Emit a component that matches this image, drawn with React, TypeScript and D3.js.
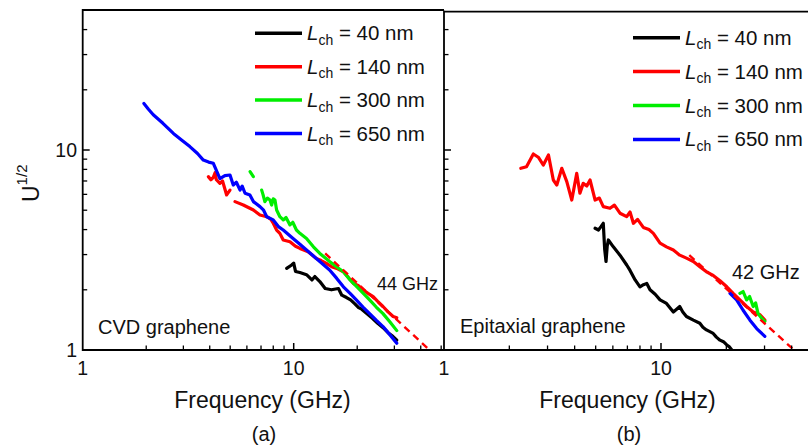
import React from 'react';
import * as d3 from 'd3';

type Pt = [number, number];

// ---------- data (frequency GHz, U^1/2) ----------
const legendLabels = ['40', '140', '300', '650'];
const seriesColors = ['#000000', '#ff0000', '#00ee00', '#0000ff'];
const minorTicks = [2, 3, 4, 5, 6, 7, 8, 9, 20, 30, 40, 50, 60, 70, 80, 90];
const majorTicks = [1, 10, 100];
const tickLabels = ['1', '10'];

// Panel (a) CVD graphene
const cvd40: Pt[] = [[9.26, 2.56], [9.78, 2.66], [10.0, 2.72], [10.2, 2.47], [10.7, 2.44], [11.5, 2.38], [12.2, 2.24], [12.6, 2.33], [13.3, 2.2], [14.1, 2.03], [15.1, 2.0], [16.3, 2.03], [16.9, 1.88], [17.8, 1.83], [18.6, 1.78], [19.5, 1.7], [20.3, 1.63], [21.0, 1.6], [22.2, 1.52], [23.6, 1.44], [25.0, 1.36], [26.6, 1.29], [28.0, 1.22], [29.5, 1.17], [30.8, 1.12]];
const cvd140a: Pt[] = [[3.94, 7.36], [4.05, 7.1], [4.16, 7.3], [4.24, 7.7], [4.3, 7.1], [4.47, 6.81], [4.6, 7.0], [4.81, 5.96], [4.99, 6.3]];
const cvd140b: Pt[] = [[5.27, 5.52], [5.77, 5.31], [6.44, 5.01], [6.92, 4.73], [7.45, 4.64], [7.8, 4.5], [8.0, 4.3], [8.3, 3.98], [8.6, 3.83], [8.92, 3.55], [9.6, 3.48], [10.2, 3.3], [10.7, 3.22], [11.7, 3.1], [12.8, 2.87], [13.5, 2.8], [14.3, 2.71], [15.2, 2.6], [16.0, 2.56], [17.2, 2.46], [18.2, 2.3], [19.2, 2.15], [20.2, 2.1], [21.3, 2.0], [22.5, 1.92], [23.8, 1.85], [25.0, 1.75], [26.5, 1.65], [28.0, 1.55], [29.6, 1.47], [30.8, 1.45]];
const cvd300a: Pt[] = [[6.21, 7.79], [6.44, 7.36]];
const cvd300b: Pt[] = [[7.05, 6.3], [7.15, 6.0], [7.3, 5.52], [7.5, 5.75], [7.72, 5.62], [7.86, 5.31], [8.0, 5.7], [8.15, 5.62], [8.3, 5.01], [8.6, 4.64], [8.92, 4.47], [9.2, 4.6], [9.6, 4.22], [9.9, 4.35], [10.3, 3.98], [10.7, 3.83], [11.5, 3.61], [12.4, 3.28], [13.3, 3.04], [14.8, 2.77], [16.0, 2.6], [17.2, 2.46], [18.5, 2.24], [20.6, 2.0], [22.9, 1.78], [24.6, 1.64], [26.5, 1.52], [28.6, 1.38], [30.8, 1.25]];
const cvd650: Pt[] = [[1.95, 17.1], [2.05, 16.0], [2.16, 15.0], [2.4, 13.6], [2.69, 12.1], [2.95, 11.2], [3.22, 10.4], [3.5, 9.6], [3.73, 8.9], [3.95, 8.7], [4.16, 8.58], [4.3, 7.9], [4.47, 7.2], [4.72, 7.45], [4.99, 7.5], [5.17, 6.68], [5.35, 6.9], [5.57, 6.3], [5.7, 6.6], [5.88, 6.08], [6.2, 5.96], [6.44, 5.52], [6.92, 5.21], [7.2, 5.0], [7.45, 4.64], [8.0, 4.47], [8.46, 4.14], [8.92, 3.98], [9.93, 3.61], [10.7, 3.38], [11.5, 3.16], [12.8, 2.87], [14.8, 2.51], [16.0, 2.28], [17.2, 2.07], [18.5, 1.92], [19.8, 1.78], [21.3, 1.64], [22.9, 1.52], [24.6, 1.41], [26.5, 1.31], [28.6, 1.19], [30.8, 1.08]];
const cvdFit: Pt[] = [[14.1, 3.04], [44, 1]];

// Panel (b) Epitaxial graphene
const epi40: Pt[] = [[4.97, 4.06], [5.15, 3.98], [5.3, 4.15], [5.42, 4.3], [5.5, 3.2], [5.58, 2.77], [5.65, 3.3], [5.72, 3.55], [6.03, 3.28], [6.47, 2.98], [6.95, 2.66], [7.2, 2.5], [7.6, 2.24], [8.0, 2.07], [8.3, 2.12], [8.6, 2.15], [8.9, 2.0], [9.4, 1.9], [9.9, 1.78], [10.6, 1.71], [11.4, 1.55], [11.8, 1.6], [12.2, 1.65], [12.6, 1.55], [13.1, 1.47], [14.1, 1.41], [15.1, 1.36], [15.6, 1.3], [16.2, 1.26], [17.4, 1.21], [18.0, 1.16], [18.7, 1.12], [19.4, 1.1], [20.1, 1.06], [20.6, 1.04], [21.2, 1.0]];
const epi140: Pt[] = [[2.26, 8.1], [2.4, 8.25], [2.58, 9.55], [2.72, 9.2], [2.87, 8.41], [3.03, 9.44], [3.19, 7.08], [3.31, 6.68], [3.49, 8.1], [3.68, 6.95], [3.88, 5.62], [4.09, 7.64], [4.23, 6.08], [4.38, 6.81], [4.55, 6.6], [4.71, 7.08], [4.97, 5.62], [5.2, 5.75], [5.42, 5.21], [5.82, 5.11], [6.1, 5.3], [6.47, 4.83], [6.95, 4.64], [7.2, 4.9], [7.46, 4.3], [7.8, 4.5], [8.29, 4.1], [8.8, 4.0], [9.22, 3.83], [9.9, 3.42], [10.6, 3.28], [11.4, 3.16], [12.2, 2.98], [13.1, 2.88], [14.1, 2.77], [15.1, 2.61], [16.2, 2.46], [17.4, 2.36], [18.7, 2.22], [20.1, 2.07], [21.5, 1.92], [23.1, 1.78], [24.8, 1.65], [26.6, 1.55], [28.6, 1.5], [30.1, 1.41]];
const epi300: Pt[] = [[23.1, 1.92], [23.9, 1.96], [24.8, 1.78], [25.6, 1.85], [26.6, 1.65], [27.3, 1.72], [28.0, 1.52], [29.1, 1.44], [30.1, 1.39]];
const epi650: Pt[] = [[20.8, 1.92], [22.3, 1.78], [23.9, 1.58], [25.7, 1.41], [27.6, 1.28], [30.1, 1.17]];
const epiFit: Pt[] = [[13.5, 2.98], [41, 1]];

const FONT = "'Liberation Sans', Arial, Helvetica, sans-serif";

interface PanelProps {
  id: string;
  x0: number;
  decade: number;
  top: number;
  bottom: number;
  right: number;
  series: { data: Pt[]; color: string }[];
  fit: Pt[];
  legendX: number;
  legendY: number;
  legendGap: number;
  showYLabels: boolean;
  name: string;
  nameX: number;
  nameY: number;
  fitLabel: string;
  fitX: number;
  fitY: number;
  fitSize: number;
  caption: string;
  captionX: number;
  titleX: number;
}

function Panel(p: PanelProps) {
  const x = d3.scaleLog().domain([1, 10]).range([p.x0, p.x0 + p.decade]);
  const y = d3.scaleLog().domain([1, 10]).range([350, 150]);
  const line = d3.line<Pt>().x(d => x(d[0])).y(d => y(d[1]));
  const yMin = [2, 3, 4, 5, 6, 7, 8, 9, 20, 30, 40].filter(v => y(v) > p.top + 2);
  const xMin = minorTicks.filter(v => x(v) < p.right - 2);
  const xMaj = majorTicks.filter(v => x(v) < p.right - 2 && x(v) > p.x0 + 1);
  const left = p.x0;
  return (
    <g>
      <rect x={left} y={0} width={808 - left} height={448} fill="#fff" />
      <defs>
        <clipPath id={p.id}>
          <rect x={left} y={p.top} width={p.right - left} height={p.bottom - p.top} />
        </clipPath>
      </defs>
      <g clipPath={`url(#${p.id})`} fill="none" strokeLinejoin="round" strokeLinecap="round">
        {p.series.map((s, i) => (
          <path key={i} d={line(s.data) || ''} stroke={s.color} strokeWidth={3.2} />
        ))}
        <path d={line(p.fit) || ''} stroke="#ff0000" strokeWidth={2.4} strokeDasharray="7,5" strokeLinecap="butt" />
      </g>
      {/* frame */}
      <path d={`M${left},${p.top}H${p.right}`} stroke="#000" strokeWidth={1.8} />
      <path d={`M${left},${p.top - 1}V${p.bottom}H${p.right}`} stroke="#000" strokeWidth={1.8} fill="none" />
      {/* ticks */}
      {yMin.map(v => <line key={'ym' + v} x1={left} x2={left + 4.5} y1={y(v)} y2={y(v)} stroke="#000" strokeWidth={1.3} />)}
      <line x1={left} x2={left + 7} y1={y(10)} y2={y(10)} stroke="#000" strokeWidth={1.5} />
      {xMin.map(v => <line key={'xm' + v} x1={x(v)} x2={x(v)} y1={p.bottom} y2={p.bottom - 4.5} stroke="#000" strokeWidth={1.3} />)}
      {xMaj.map(v => <line key={'xM' + v} x1={x(v)} x2={x(v)} y1={p.bottom} y2={p.bottom - 7} stroke="#000" strokeWidth={1.5} />)}
      {/* tick labels */}
      <g fontFamily={FONT} fontSize={19.5} fill="#111">
        {tickLabels.map((t, i) => (
          <text key={'xl' + t} x={x(i === 0 ? 1 : 10)} y={375} textAnchor="middle">{t}</text>
        ))}
        {p.showYLabels && tickLabels.map((t, i) => (
          <text key={'yl' + t} x={77} y={y(i === 0 ? 1 : 10) + 7} textAnchor="end">{t}</text>
        ))}
      </g>
      {/* legend */}
      <g fontFamily={FONT} fill="#111">
        {legendLabels.map((l, i) => {
          const ly = p.legendY + i * p.legendGap;
          return (
            <g key={'lg' + l}>
              <line x1={p.legendX} x2={p.legendX + 47} y1={ly} y2={ly} stroke={seriesColors[i]} strokeWidth={3.5} />
              <text x={p.legendX + 52} y={ly + 7} fontSize={20.5}>
                <tspan fontStyle="italic">L</tspan>
                <tspan fontSize={14} dy={4.5}>ch</tspan>
                <tspan dy={-4.5}>{` = ${l} nm`}</tspan>
              </text>
            </g>
          );
        })}
      </g>
      <text x={p.nameX} y={p.nameY} fontFamily={FONT} fontSize={20} fill="#111">{p.name}</text>
      <text x={p.fitX} y={p.fitY} fontFamily={FONT} fontSize={p.fitSize} fill="#111">{p.fitLabel}</text>
      <text x={p.titleX} y={408} fontFamily={FONT} fontSize={23} fill="#111" textAnchor="middle">Frequency (GHz)</text>
      <text x={p.captionX} y={441} fontFamily={FONT} fontSize={20} fill="#111" textAnchor="middle">{p.caption}</text>
    </g>
  );
}

export default function App() {
  return (
    <svg width={808} height={448} style={{ position: 'absolute', left: 0, top: 0, display: 'block', background: '#fff' }}>
      <rect x={0} y={0} width={808} height={448} fill="#fff" />
      <Panel
        id="clipA" x0={82.7} decade={211} top={10} bottom={350} right={444}
        series={[
          { data: cvd140a, color: seriesColors[1] },
          { data: cvd140b, color: seriesColors[1] },
          { data: cvd300a, color: seriesColors[2] },
          { data: cvd300b, color: seriesColors[2] },
          { data: cvd40, color: seriesColors[0] },
          { data: cvd650, color: seriesColors[3] },
        ]}
        fit={cvdFit}
        legendX={255} legendY={33.3} legendGap={33.4}
        showYLabels={true}
        name="CVD graphene" nameX={98} nameY={334}
        fitLabel="44 GHz" fitX={377} fitY={290} fitSize={18}
        caption="(a)" captionX={264} titleX={262.5}
      />
      <Panel
        id="clipB" x0={444} decade={217} top={11.7} bottom={350} right={808}
        series={[
          { data: epi40, color: seriesColors[0] },
          { data: epi140, color: seriesColors[1] },
          { data: epi300, color: seriesColors[2] },
          { data: epi650, color: seriesColors[3] },
        ]}
        fit={epiFit}
        legendX={633} legendY={37.7} legendGap={33.9}
        showYLabels={false}
        name="Epitaxial graphene" nameX={460} nameY={333}
        fitLabel="42 GHz" fitX={732} fitY={279} fitSize={20}
        caption="(b)" captionX={629} titleX={627.5}
      />
      <text transform="translate(39,202) rotate(-90)" fontFamily={FONT} fontSize={23} fill="#111">
        U<tspan fontSize={15} dy={-12}>1/2</tspan>
      </text>
    </svg>
  );
}
